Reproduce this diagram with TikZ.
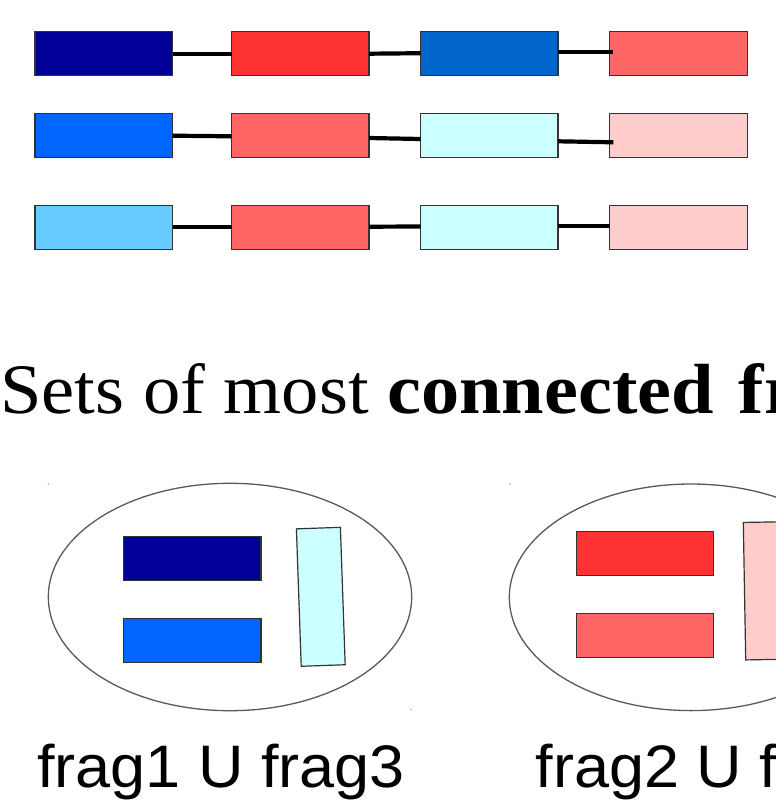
\documentclass[tikz,border=0pt]{standalone}
\usepackage{fontspec}
\newfontfamily\titlefont[FakeStretch=1.05,BoldFeatures={FakeStretch=1.075}]{Liberation Serif}
\newfontfamily\labelfont[FakeStretch=1.05]{Liberation Sans}
\definecolor{navy}{HTML}{000099}
\definecolor{redA}{HTML}{FF3333}
\definecolor{blueB}{HTML}{0066CC}
\definecolor{redB}{HTML}{FF6666}
\definecolor{blueC}{HTML}{0066FF}
\definecolor{pinkC}{HTML}{FFCCCC}
\definecolor{cyanC}{HTML}{CCFFFF}
\definecolor{skyC}{HTML}{66CCFF}
\begin{document}
\begin{tikzpicture}[x=1pt,y=-1pt,
  frag/.style={draw=black!80, line width=1.2pt, minimum width=137.5pt, minimum height=44pt, inner sep=0pt, outer sep=0pt},
  vfrag/.style={draw=black!80, line width=1.2pt, minimum width=44pt, minimum height=137.5pt, inner sep=0pt, outer sep=0pt},
  link/.style={line width=4.2pt, black},
  ring/.style={draw=black!65, line width=1.3pt},
  speck/.style={fill=black!40}]
\useasboundingbox (0,0) rectangle (776,809);
\clip (0,0) rectangle (776,809);
% top rows
\node[frag, fill=navy]  (a1) at (103.8,53.7) {};
\node[frag, fill=redA]  (a2) at (300.3,53.7) {};
\node[frag, fill=blueB] (a3) at (489.3,53.7) {};
\node[frag, fill=redB]  (a4) at (678.5,53.7) {};
\node[frag, fill=blueC] (b1) at (103.8,135.3) {};
\node[frag, fill=redB]  (b2) at (300.3,135.3) {};
\node[frag, fill=cyanC] (b3) at (489.3,135.3) {};
\node[frag, fill=pinkC] (b4) at (678.5,135.3) {};
\node[frag, fill=skyC]  (c1) at (103.8,227.2) {};
\node[frag, fill=redB]  (c2) at (300.3,227.2) {};
\node[frag, fill=cyanC] (c3) at (489.3,227.2) {};
\node[frag, fill=pinkC] (c4) at (678.5,227.2) {};
\draw[link] (a1.east) -- (a2.west);
\draw[link] (a2.east) -- ([yshift=0.5pt]a3.west);
\draw[link] ([yshift=1.5pt]a3.east) -- ([xshift=3.7pt,yshift=1.5pt]a4.west);
\draw[link] ([yshift=-0.4pt]b1.east) -- ([yshift=-1pt]b2.west);
\draw[link] ([yshift=-2.7pt]b2.east) -- ([yshift=-3.7pt]b3.west);
\draw[link] ([yshift=-6pt]b3.east) -- ([xshift=3.7pt,yshift=-7pt]b4.west);
\draw[link] (c1.east) -- (c2.west);
\draw[link] ([yshift=0.5pt]c2.east) -- ([yshift=0.7pt]c3.west);
\draw[link] ([yshift=1.5pt]c3.east) -- ([yshift=1.5pt]c4.west);
% title
\node[anchor=base west, inner sep=0pt] (title) at (0,413)
  {\titlefont\fontsize{71pt}{80pt}\selectfont Sets of most \textbf{connected\kern6pt{} fr}};
% sets
\draw[ring] (230,597) ellipse [x radius=181.7pt, y radius=113.7pt];
\draw[ring] (691,597.3) ellipse [x radius=181.7pt, y radius=113.3pt];
\fill[speck] (48.3,484) circle [radius=0.8pt];
\fill[speck] (411,709.3) circle [radius=0.8pt];
\fill[speck] (510,484) circle [radius=0.8pt];
\node[frag, fill=navy]  (s1a) at (192.3,558.8) {};
\node[frag, fill=blueC] (s1b) at (192.3,640.7) {};
\node[vfrag, fill=cyanC, rotate=2] (s1c) at (320.8,596.8) {};
\node[frag, fill=redA]  (s2a) at (645,553.8) {};
\node[frag, fill=redB]  (s2b) at (645,635.7) {};
\node[vfrag, fill=pinkC, rotate=1] (s2c) at (766.5,590.8) {};
% labels
\node[anchor=base west, inner sep=0pt] (lab1) at (37,787)
  {\labelfont\fontsize{60pt}{70pt}\selectfont frag1 U frag3};
\node[anchor=base west, inner sep=0pt] (lab2) at (535.5,787)
  {\labelfont\fontsize{60pt}{70pt}\selectfont frag2 U f};
\end{tikzpicture}
\end{document}
